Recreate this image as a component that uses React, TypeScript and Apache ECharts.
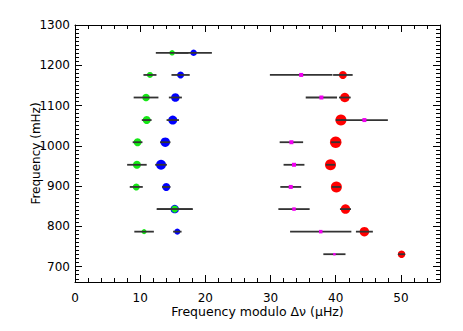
import React, { useEffect, useRef } from "react";
import * as echarts from "echarts";

// Rows of frequency (mHz) for green/blue modes
const freqGB = [1231, 1176, 1120, 1064, 1009, 953, 898, 843, 787];
const greenX = [14.9, 11.5, 10.9, 11.0, 9.6, 9.5, 9.4, 15.3, 10.6];
const greenErr = [2.5, 1.0, 1.9, 0.75, 0.75, 1.5, 1.0, 2.75, 1.5];
const greenSize = [5.5, 6, 7.5, 8, 8, 8, 7, 7, 5];
const blueX = [18.2, 16.2, 15.4, 15.0, 13.85, 13.2, 14.0, 15.3, 15.7];
const blueErr = [2.8, 1.4, 1.0, 0.95, 0.8, 0.9, 0.65, 2.75, 0.65];
const blueSize = [6.5, 7, 8.5, 9, 9.5, 10, 8, 8.5, 6];

// Rows for red/magenta modes
const freqRM = [1176, 1120, 1064, 1009, 953, 898, 843, 787, 731];
const redX = [41.1, 41.4, 40.8, 40.0, 39.2, 40.1, 41.5, 44.4, 50.1];
const redErr = [1.5, 0.9, 0.8, 0.7, 0.7, 0.7, 0.85, 1.3, 0.55];
const redSize = [8, 9.5, 11, 11.5, 11, 11, 9.5, 9.5, 7.5];
const magX = [34.7, 37.8, 44.4, 33.2, 33.6, 33.1, 33.6, 37.7, 39.8];
const magErr = [4.8, 2.4, 3.6, 1.8, 1.6, 1.6, 2.4, 4.7, 1.7];
const magSize = [4, 4, 4, 4, 4, 4, 3.5, 3.5, 2.5];

// Axis ticks
const xMajor = [0, 10, 20, 30, 40, 50];
const xMinor = [2, 4, 6, 8, 12, 14, 16, 18, 22, 24, 26, 28, 32, 34, 36, 38, 42, 44, 46, 48, 52, 54];
const yMajor = [700, 800, 900, 1000, 1100, 1200, 1300];
const yMinor: number[] = [];
for (let v = 670; v < 1300; v += 10) if (v % 100 !== 0) yMinor.push(v);

const X_MIN = 0, X_MAX = 56, Y_MIN = 662, Y_MAX = 1300;
const FONT = "DejaVu Sans";

function axis(pos: string, min: number, max: number, ticks: number[], len: number, label: boolean, line: boolean, extra: any = {}) {
  return {
    type: "value",
    gridIndex: 0,
    position: pos,
    min,
    max,
    axisLine: { show: line, onZero: false, lineStyle: { color: "#000", width: 1 } },
    axisTick: { show: true, inside: true, length: len, customValues: ticks, lineStyle: { color: "#000", width: 1 } },
    axisLabel: { show: label, customValues: ticks, color: "#000", fontFamily: FONT, fontSize: 12, formatter: (v: number) => String(v) },
    splitLine: { show: false },
    ...extra,
  };
}

function errSeries(xs: number[], ys: number[], es: number[], z: number) {
  return {
    type: "custom",
    z,
    data: xs.map((x, i) => [x, ys[i], es[i]]),
    encode: { x: 0, y: 1 },
    renderItem: (params: any, api: any) => {
      const x = api.value(0), y = api.value(1), e = api.value(2);
      const p1 = api.coord([x - e, y]);
      const p2 = api.coord([x + e, y]);
      return {
        type: "line",
        shape: { x1: p1[0], y1: p1[1], x2: p2[0], y2: p2[1] },
        style: { stroke: "#333", lineWidth: 1.8 },
      };
    },
  };
}

function pts(xs: number[], ys: number[], sizes: number[], color: string, z: number, symbol = "circle") {
  return {
    type: "scatter",
    z,
    symbol,
    itemStyle: { color, opacity: 1 },
    data: xs.map((x, i) => ({ value: [x, ys[i]], symbolSize: sizes[i] })),
  };
}

export default function App() {
  const ref = useRef<HTMLDivElement>(null);
  useEffect(() => {
    if (!ref.current) return;
    const chart = echarts.init(ref.current, null, { renderer: "svg" });
    chart.setOption({
      animation: false,
      backgroundColor: "#fff",
      grid: { left: 75, right: 23, top: 25, bottom: 49 },
      xAxis: [
        axis("bottom", X_MIN, X_MAX, xMajor, 7, true, true, {
          name: "Frequency modulo \u0394\u03bd (\u03bcHz)",
          nameLocation: "middle",
          nameGap: 23,
          nameMoveOverlap: false,
          nameTextStyle: { color: "#000", fontFamily: FONT, fontSize: 12.5 },
          axisLabel: { show: true, customValues: xMajor, color: "#000", fontFamily: FONT, fontSize: 12, margin: 10, formatter: (v: number) => String(v) },
        }),
        axis("bottom", X_MIN, X_MAX, xMinor, 4, false, false),
        axis("top", X_MIN, X_MAX, xMajor, 7, false, true),
        axis("top", X_MIN, X_MAX, xMinor, 4, false, false),
      ],
      yAxis: [
        axis("left", Y_MIN, Y_MAX, yMajor, 7, true, true, {
          name: "Frequency (mHz)",
          nameLocation: "middle",
          nameGap: 33,
          nameMoveOverlap: false,
          nameTextStyle: { color: "#000", fontFamily: FONT, fontSize: 12 },
          axisLabel: { show: true, customValues: yMajor, color: "#000", fontFamily: FONT, fontSize: 12, margin: 5, formatter: (v: number) => String(v) },
        }),
        axis("left", Y_MIN, Y_MAX, yMinor, 4, false, false),
        axis("right", Y_MIN, Y_MAX, yMajor, 7, false, true),
        axis("right", Y_MIN, Y_MAX, yMinor, 4, false, false),
      ],
      series: [
        pts(blueX, freqGB, blueSize, "#0000ff", 2),
        pts(greenX, freqGB, greenSize, "#14e814", 3),
        pts(redX, freqRM, redSize, "#ff0000", 2),
        errSeries(greenX, freqGB, greenErr, 4),
        errSeries(blueX, freqGB, blueErr, 4),
        errSeries(redX, freqRM, redErr, 4),
        errSeries(magX, freqRM, magErr, 4),
        pts(magX, freqRM, magSize, "#f000f0", 5, "rect"),
      ],
    });
    return () => chart.dispose();
  }, []);
  return <div ref={ref} style={{ width: 463, height: 331, position: "absolute", left: 0, top: 0 }} />;
}
